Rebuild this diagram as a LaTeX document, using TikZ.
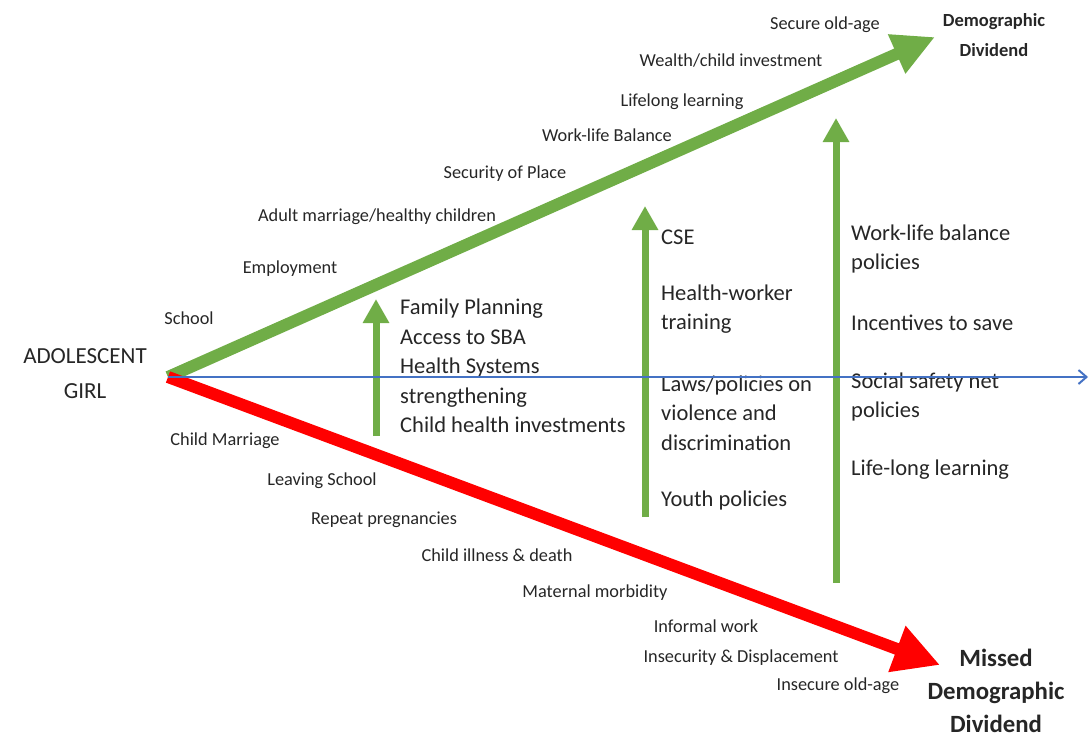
\documentclass[tikz,border=0pt]{standalone}
\usepackage{fontspec}
\setmainfont{Carlito}
\usetikzlibrary{arrows.meta,positioning}
\definecolor{pathgreen}{HTML}{70AD47}
\definecolor{pathred}{HTML}{FF0000}
\definecolor{horizonblue}{HTML}{4472C4}
\definecolor{inktext}{HTML}{262626}

\begin{document}
\begin{tikzpicture}[x=1pt,y=-1pt,
    outcome/.style={font=\fontsize{18.3}{22}\selectfont, text=inktext, inner sep=0pt},
    policy/.style={font=\fontsize{22.5}{29.5}\selectfont, text=inktext, align=left, anchor=west, inner sep=0pt},
    goal/.style={font=\bfseries\fontsize{18.5}{30}\selectfont, text=inktext, align=center, inner sep=0pt},
    pathway/.style={line width=12pt, -{Triangle[length=42pt,width=40pt]}},
    lever/.style={pathgreen, line width=7pt, -{Triangle[length=24pt,width=25pt]}},
    ]
    \useasboundingbox (0,0) rectangle (1089,737);

    %Coordinates
    \coordinate (girl)    at (168,377);
    \coordinate (ddtip)   at (935,37);
    \coordinate (mddtip)  at (940,665);
    \coordinate (horizon) at (1088,377);
    \coordinate (fpbot) at (376,436);  \coordinate (fptop) at (376,299);
    \coordinate (csebot) at (645,517); \coordinate (csetop) at (645,206);
    \coordinate (wlbbot) at (836,583); \coordinate (wlbtop) at (836,118);

    %Nodes
    \node[font=\fontsize{23}{35}\selectfont, text=inktext, align=center, inner sep=0pt] (adolescent) at (85,374) {ADOLESCENT\\GIRL};
    \node[goal] (dd) at (994,35) {Demographic\\Dividend};
    \node[goal, font=\bfseries\fontsize{24.8}{33}\selectfont] (mdd) at (996,691) {Missed\\Demographic\\Dividend};

    % good pathway
    \node[outcome] (oldage)     at (825,25)  {Secure old-age};
    \node[outcome] (wealth)     at (731,61)  {Wealth/child investment};
    \node[outcome] (lifelong)   at (682,102) {Lifelong learning};
    \node[outcome] (worklife)   at (607,135) {Work-life Balance};
    \node[outcome] (place)      at (505,174) {Security of Place};
    \node[outcome] (marriage)   at (377,217) {Adult marriage/healthy children};
    \node[outcome] (employment) at (290,269) {Employment};
    \node[outcome] (school)     at (189,318) {School};

    % bad pathway
    \node[outcome] (childmar)   at (225,441) {Child Marriage};
    \node[outcome] (leaving)    at (322,481) {Leaving School};
    \node[outcome] (repeat)     at (384,520) {Repeat pregnancies};
    \node[outcome] (illness)    at (497,555) {Child illness \& death};
    \node[outcome] (morbidity)  at (595,593) {Maternal morbidity};
    \node[outcome] (informal)   at (706,626) {Informal work};
    \node[outcome] (insecurity) at (741,658) {Insecurity \& Displacement};
    \node[outcome] (insecold)   at (838,686) {Insecure old-age};

    % policies
    \node[policy] (fp)      at (400,366) {Family Planning\\Access to SBA\\Health Systems\\strengthening\\Child health investments};
    \node[policy] (cse)     at (661,237) {CSE};
    \node[policy] (hwt)     at (661,309) {Health-worker\\training};
    \node[policy] (laws)    at (661,413) {Laws/policies on\\violence and\\discrimination};
    \node[policy] (youth)   at (661,500) {Youth policies};
    \node[policy] (wlbp)    at (851,249) {Work-life balance\\policies};
    \node[policy] (save)    at (851,323) {Incentives to save};
    \node[policy] (safety)  at (851,397) {Social safety net\\policies};
    \node[policy] (lll)     at (851,470) {Life-long learning};

    %Lines
    \draw[pathway, pathgreen] (girl) -- (ddtip);
    \draw[pathway, pathred, -{Triangle[length=46pt,width=46pt]}] (girl) -- (mddtip);
    \draw[lever] (fpbot) -- (fptop);
    \draw[lever] (csebot) -- (csetop);
    \draw[lever] (wlbbot) -- (wlbtop);
    \draw[horizonblue, line width=2pt, -{Straight Barb[length=8pt,width=14pt]}] (girl) -- (horizon);
\end{tikzpicture}
\end{document}
